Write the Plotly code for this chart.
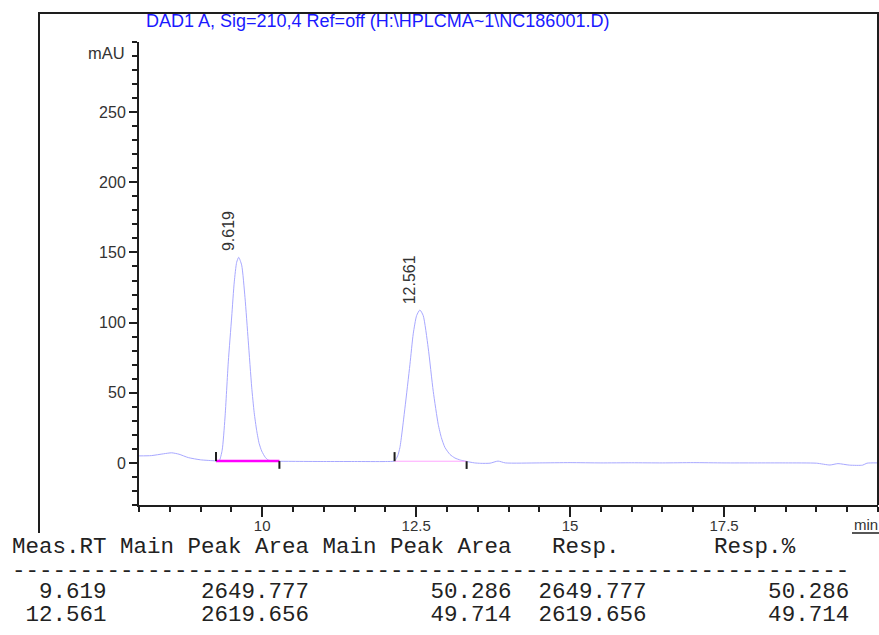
import plotly.graph_objects as go

# ---- chromatogram trace (retention time in min, signal in mAU) ----
time_min = [8.00, 8.20, 8.40, 8.53, 8.65, 8.80, 9.00, 9.20, 9.30, 9.35,
            9.396, 9.45, 9.505, 9.547, 9.586, 9.619, 9.667, 9.721, 9.774, 9.83,
            9.87, 9.911, 9.95, 9.992, 10.05, 10.10, 10.20, 10.50, 11.00, 11.50,
            12.00, 12.15, 12.20, 12.237, 12.318, 12.399, 12.453, 12.508, 12.561, 12.615,
            12.696, 12.778, 12.859, 12.91, 12.968, 13.05, 13.13, 13.22, 13.30, 13.45,
            13.55, 13.70, 13.83, 13.95, 14.50, 15.00, 15.50, 16.00, 16.50, 17.00,
            17.50, 18.00, 18.50, 19.00, 19.22, 19.35, 19.54, 19.75, 19.82, 20.00]
signal_mau = [5.0, 5.2, 6.5, 7.2, 6.2, 3.8, 2.2, 1.6, 1.5, 9.0,
              32.0, 72.0, 104.0, 129.0, 143.0, 146.5, 141.0, 118.0, 87.0, 54.0,
              36.0, 23.0, 14.0, 8.5, 4.0, 2.0, 1.3, 1.1, 1.0, 1.0,
              1.0, 1.4, 5.0, 11.0, 39.0, 70.0, 92.0, 105.0, 109.0, 105.0,
              82.0, 51.0, 27.5, 18.0, 11.0, 6.0, 3.5, 2.0, 1.2, 0.0,
              -0.3, -0.2, 1.3, 0.0, 0.0, 0.2, 0.0, 0.1, 0.0, 0.2,
              0.0, 0.0, 0.0, -0.2, -1.5, -0.5, -1.6, -1.6, -0.2, 0.0]

# ---- integration results ----
peak_rt = [9.619, 12.561]
peak_height = [146.5, 109.0]
peak_area = [2649.777, 2619.656]
area_pct = [50.286, 49.714]
resp = [2649.777, 2619.656]
resp_pct = [50.286, 49.714]
baseline_start = [9.25, 12.15]
baseline_end = [10.28, 13.32]
baseline_level = [1.3, 1.2]

x_tick_vals = [10, 12.5, 15, 17.5]
x_tick_text = ["10", "12.5", "15", "17.5"]
y_tick_vals = [0, 50, 100, 150, 200, 250]
y_tick_text = ["0", "50", "100", "150", "200", "250"]

title_text = "DAD1 A, Sig=210,4 Ref=off (H:\\HPLCMA~1\\NC186001.D)"
table_header = "Meas.RT Main Peak Area Main Peak Area   Resp.       Resp.%"

W, H = 879, 635
ML, MR, MT, MB = 139, 1, 42, 130
PW, PH = W - ML - MR, H - MT - MB


def px_x(px):
    return (px - ML) / PW


def px_y(py):
    return (H - MB - py) / PH


INK = "#1e1e1e"
LABEL = "#333333"

fig = go.Figure()

fig.add_trace(go.Scatter(
    x=time_min, y=signal_mau, mode="lines",
    line=dict(color="#a8a8ff", width=1, shape="spline", smoothing=0.6),
    hoverinfo="skip"))

# integration baselines
baseline_colors = ["#ff00ff", "#ffa6ff"]
baseline_widths = [2.5, 1]
for s, e, lv, c, w in zip(baseline_start, baseline_end, baseline_level,
                          baseline_colors, baseline_widths):
    fig.add_trace(go.Scatter(x=[s, e], y=[lv, lv], mode="lines",
                             line=dict(color=c, width=w), hoverinfo="skip"))

shapes = []
# peak start / end event marks
for s, e, lv in zip(baseline_start, baseline_end, baseline_level):
    shapes.append(dict(type="line", xref="x", yref="y", x0=s, x1=s,
                       y0=lv, y1=lv + 6.5, line=dict(color=INK, width=2)))
    shapes.append(dict(type="line", xref="x", yref="y", x0=e, x1=e,
                       y0=lv, y1=lv - 5.5, line=dict(color=INK, width=2)))

# report frame
shapes.append(dict(
    type="path", xref="paper", yref="paper",
    path=(f"M {px_x(39)},{px_y(533)} L {px_x(39)},{px_y(13)} "
          f"L {px_x(878)},{px_y(13)} L {px_x(878)},{px_y(505)}"),
    line=dict(color=INK, width=2)))
# underline of the unit label
shapes.append(dict(type="line", xref="paper", yref="paper",
                   x0=px_x(852), x1=px_x(879), y0=px_y(533), y1=px_y(533),
                   line=dict(color=INK, width=1.5)))

annotations = []
# retention time labels above each apex
for rt, h in zip(peak_rt, peak_height):
    annotations.append(dict(
        x=rt, y=h, xref="x", yref="y", text=f"{rt:.3f}", showarrow=False,
        textangle=-90, xanchor="center", yanchor="bottom", xshift=-10, yshift=4,
        font=dict(family="Liberation Sans", size=16, color=LABEL)))

annotations.append(dict(
    x=px_x(145), y=px_y(21), xref="paper", yref="paper", text=title_text,
    showarrow=False, xanchor="left", yanchor="middle", borderpad=0,
    font=dict(family="Liberation Sans", size=18, color="#1a1aff")))
annotations.append(dict(
    x=px_x(126), y=px_y(53), xref="paper", yref="paper", text="mAU",
    showarrow=False, xanchor="right", yanchor="middle", borderpad=0,
    font=dict(family="Liberation Sans", size=16.5, color=LABEL)))
annotations.append(dict(
    x=px_x(866), y=px_y(524), xref="paper", yref="paper", text="min",
    showarrow=False, xanchor="center", yanchor="middle", borderpad=0,
    font=dict(family="Liberation Sans", size=15, color=LABEL)))

# results table in fixed-width text
NB = "\u00a0"
mono = dict(family="Liberation Mono", size=22.5, color="#222222")
rows = [table_header, "-" * 62]
for rt, a, ap, r, rp in zip(peak_rt, peak_area, area_pct, resp, resp_pct):
    rows.append(f"{rt:7.3f}{a:15.3f}{ap:15.3f}{r:10.3f}{rp:15.3f}")
row_y = [547, 571, 592, 615]
for text, y in zip(rows, row_y):
    annotations.append(dict(
        x=px_x(10.5), y=px_y(y), xref="paper", yref="paper",
        text=text.replace(" ", NB), showarrow=False, xanchor="left",
        yanchor="middle", borderpad=0, font=mono))

axis_common = dict(showgrid=False, zeroline=False, showline=True,
                   linecolor=INK, linewidth=2, ticks="outside",
                   tickcolor=INK, tickwidth=1.5, fixedrange=True)

fig.update_layout(
    width=W, height=H,
    margin=dict(l=ML, r=MR, t=MT, b=MB, pad=0),
    paper_bgcolor="white", plot_bgcolor="white",
    showlegend=False,
    xaxis=dict(range=[8, 20], tickvals=x_tick_vals, ticktext=x_tick_text,
               ticklen=10, ticklabelstandoff=-4,
               tickfont=dict(family="Liberation Sans", size=15, color=LABEL),
               minor=dict(dtick=0.5, tick0=8, ticks="outside", ticklen=5,
                          tickcolor=INK, tickwidth=1.5),
               **axis_common),
    yaxis=dict(range=[-30, 300], tickvals=y_tick_vals, ticktext=y_tick_text,
               ticklen=8,
               tickfont=dict(family="Liberation Sans", size=16, color=LABEL),
               minor=dict(dtick=10, tick0=0, ticks="outside", ticklen=5,
                          tickcolor=INK, tickwidth=1.5),
               **axis_common),
    shapes=shapes,
    annotations=annotations,
)

fig.write_html("out.html")
